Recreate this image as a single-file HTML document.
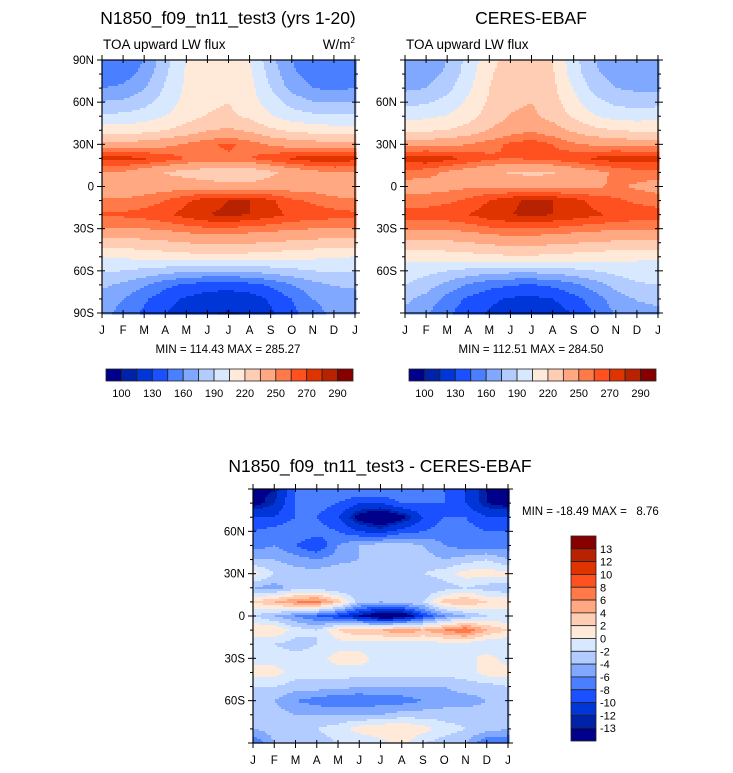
<!DOCTYPE html>
<html><head><meta charset="utf-8">
<style>
html,body{margin:0;padding:0;background:#fff;}
svg{display:block;font-family:"Liberation Sans",Arial,sans-serif;}
</style></head>
<body>
<svg id="root" width="733" height="773" viewBox="0 0 733 773" xmlns="http://www.w3.org/2000/svg">
<rect width="733" height="773" fill="#fff"/>
<text x="228" y="24" font-size="17.5" text-anchor="middle">N1850_f09_tn11_test3 (yrs 1-20)</text>
<text x="531" y="24" font-size="17.5" text-anchor="middle">CERES-EBAF</text>
<text x="103" y="49" font-size="13.5">TOA upward LW flux</text>
<text x="355" y="49" font-size="13.5" text-anchor="end">W/m<tspan font-size="8" dy="-6">2</tspan></text>
<text x="406" y="49" font-size="13.5">TOA upward LW flux</text>
<text x="228" y="353" font-size="11.5" text-anchor="middle">MIN = 114.43 MAX = 285.27</text>
<text x="531" y="353" font-size="11.5" text-anchor="middle">MIN = 112.51 MAX = 284.50</text>
<text x="380" y="472" font-size="17.5" text-anchor="middle">N1850_f09_tn11_test3 - CERES-EBAF</text>
<text x="522" y="515" font-size="11.5" xml:space="preserve">MIN = -18.49 MAX =   8.76</text>
<g id="layer"></g>
</svg>
<script>
// ---- data ----
var months = ["J","F","M","A","M","J","J","A","S","O","N","D","J"];
var lats = [90,80,70,60,50,40,30,20,10,0,-10,-20,-30,-40,-50,-60,-70,-80,-90];
var fluxLevels = [100,115,130,145,160,175,190,205,220,235,250,260,270,280,290];
var fluxLabels = ["100","130","160","190","220","250","270","290"];
var diffLevels = [-13,-12,-10,-8,-6,-4,-2,0,2,4,6,8,10,12,13];
var diffLabels = ["13","12","10","8","6","4","2","0","-2","-4","-6","-8","-10","-12","-13"];
var palette = ['#00008a','#0022a8','#0035d8','#1a50ff','#4a7fff','#80a8ff','#b3ccff','#d8e8ff','#ffe9d9','#ffccb4','#ffa882','#ff7a48','#ff5020','#e03400','#b82200','#860000'];
var modelField = [
[148,150,160,185,205,212,218,205,180,160,150,147,148],
[150,153,165,188,207,214,216,208,185,163,153,150,150],
[160,163,174,192,208,216,218,210,190,170,160,157,160],
[176,178,185,197,210,217,220,212,198,184,176,174,176],
[193,194,198,205,214,221,223,217,206,198,194,192,193],
[212,213,215,220,226,234,238,232,223,217,214,212,212],
[240,240,242,246,252,258,262,256,248,244,242,240,240],
[274,274,272,266,260,258,258,260,266,272,276,276,274],
[250,248,240,234,230,226,222,224,232,240,246,250,250],
[238,240,242,244,244,242,240,240,242,244,244,240,238],
[252,252,255,260,268,276,280,280,272,262,258,254,252],
[262,262,264,268,274,280,282,280,274,268,266,264,262],
[250,250,250,252,256,258,258,256,254,252,250,250,250],
[228,228,230,232,235,238,238,236,234,232,230,228,228],
[205,207,210,212,214,216,216,214,212,210,208,206,205],
[192,190,186,182,178,176,176,178,182,186,190,192,192],
[178,172,162,150,142,138,136,140,148,160,170,176,178],
[168,160,148,135,128,122,120,122,132,145,160,166,168],
[165,155,142,130,122,116,114,116,128,140,155,163,165]];
var obsField = [
[162,165,175,195,215,226,230,220,195,175,165,162,162],
[165,168,178,198,218,228,230,222,198,178,168,165,165],
[172,175,185,202,220,230,232,224,204,185,175,172,172],
[185,188,195,208,222,232,235,226,210,195,186,184,185],
[200,202,206,214,226,236,238,230,218,206,200,198,200],
[218,218,220,226,236,244,248,242,232,224,220,218,218],
[244,244,246,250,256,262,266,260,252,248,246,244,244],
[276,278,274,268,262,260,262,264,268,272,276,276,276],
[256,254,248,242,238,234,232,234,240,246,252,256,256],
[244,244,246,248,248,245,244,244,246,248,252,248,244],
[256,256,258,262,270,278,282,280,274,266,262,258,256],
[264,264,266,270,276,280,282,280,276,272,268,266,264],
[252,252,252,254,258,260,260,258,256,254,252,252,252],
[230,230,232,234,238,240,240,238,236,234,232,230,230],
[208,210,212,214,216,218,218,216,214,212,210,208,208],
[198,195,190,186,182,180,180,182,186,190,195,198,198],
[190,182,170,158,150,146,144,148,156,168,180,188,190],
[178,170,155,142,134,128,126,130,140,152,168,176,178],
[172,162,148,136,128,120,116,120,132,146,162,170,172]];
var diffField = [
[-14,-13,-8,-6,-6,-6,-6,-6,-8,-8,-10,-13,-14],
[-14,-12,-8,-7,-8,-10,-10,-8,-8,-8,-10,-13,-14],
[-10,-10,-8,-8,-10,-14,-16,-14,-10,-8,-8,-10,-10],
[-8,-7,-6,-7,-8,-10,-11,-9,-8,-7,-7,-8,-8],
[-7,-6,-8,-10,-6,-4,-3,-3,-4,-6,-7,-7,-7],
[-4,-4,-5,-6,-5,-4,-4,-4,-3,-4,-3,-2,-4],
[1,-2,-3,-3,-2,-2,-3,-2,-2,-1,1,1,1],
[-4,-5,-3,-3,-4,-4,-4,-3,-4,-3,-2,-3,-4],
[2,4,6,7,3,-3,-4,-3,-2,3,4,2,2],
[-2,-4,-6,-8,-10,-13,-16,-16,-10,-6,-4,-2,-2],
[2,2,-1,-2,2,4,4,6,4,6,8,4,2],
[-2,-2,-3,-2,-1,-1,-1,-2,-1,-1,-1,-2,-2],
[-1,-1,-1,-1,1,1,-1,-1,-1,-1,-1,1,-1],
[1,1,-1,-1,-1,-1,-1,-1,-1,-1,-1,1,1],
[-2,-2,-3,-3,-3,-4,-4,-4,-4,-4,-3,-3,-2],
[-4,-4,-6,-7,-8,-8,-7,-7,-6,-5,-5,-4,-4],
[-3,-3,-4,-4,-4,-4,-4,-3,-3,-3,-3,-3,-3],
[-4,-3,-2,-2,-1,1,2,2,1,-1,-2,-3,-4],
[-8,-4,-3,-3,-2,-2,-1,1,-2,-3,-4,-8,-8]];
var latTicksModel = ["90N","60N","30N","0","30S","60S","90S"];
var latTickValsModel = [90,60,30,0,-30,-60,-90];
var latTicksInner = ["60N","30N","0","30S","60S"];
var latTickValsInner = [60,30,0,-30,-60];

// ---- drawing ----
var NS = "http://www.w3.org/2000/svg";
var layer = document.getElementById('layer');
function mk(tag, attrs, parent){ var e=document.createElementNS(NS,tag); for(var k in attrs) e.setAttribute(k,attrs[k]); (parent||layer).appendChild(e); return e; }
function bin(v, levels){ var i=0; while(i<levels.length && v>=levels[i]) i++; return i; }
function sample(field, m, lat){
  var r=(90-lat)/10, c=m; var r0=Math.min(Math.floor(r),17), c0=Math.min(Math.floor(c),11);
  var fr=r-r0, fc=c-c0;
  var a=field[r0][c0], b=field[r0][c0+1], d=field[r0+1][c0], e=field[r0+1][c0+1];
  return a*(1-fr)*(1-fc)+b*(1-fr)*fc+d*fr*(1-fc)+e*fr*fc;
}
function panel(name, x0, y0, w, h, field, levels, tickLabels, tickVals){
  var g = mk('g',{});
  
  
  var xs = function(m){ return x0 + m/12*w; };
  var ys = function(lat){ return y0 + (90-lat)/180*h; };
  var step=2, nx=Math.ceil(w/step), ny=Math.ceil(h/step);
  for(var j=0;j<ny;j++){
    var lat = 90 - (j+0.5)*step/h*180;
    var runStart=0, runBin=-1;
    for(var i=0;i<=nx;i++){
      var bi = -2;
      if(i<nx){ var m=(i+0.5)*step/w*12; bi=bin(sample(field,m,lat),levels); }
      if(bi!==runBin){
        if(runBin>=0){
          var cell = mk('rect',{x:(x0+runStart*step).toFixed(1),y:(y0+j*step).toFixed(1),width:((i-runStart)*step+0.6).toFixed(1),height:step+0.6,fill:palette[runBin]},g);
          
          
        }
        runStart=i; runBin=bi;
      }
    }
  }
  mk('rect',{x:x0,y:y0,width:w,height:h,fill:'none',stroke:'#000','stroke-width':1.2},g);
  for(var k=0;k<months.length;k++){
    var x=xs(k);
    mk('line',{x1:x,y1:y0+h-3,x2:x,y2:y0+h+5,stroke:'#000','stroke-width':1},g);
    mk('line',{x1:x,y1:y0-5,x2:x,y2:y0+3,stroke:'#000','stroke-width':1},g);
    var t=mk('text',{x:x,y:y0+h+21,'font-size':11.5,'text-anchor':'middle'},g); t.textContent=months[k];
    
    
  }
  for(var lt=-90;lt<=90;lt+=10){
    var y=ys(lt), major=(lt%30===0);
    mk('line',{x1:x0-(major?5:3),y1:y,x2:x0+(major?3:0),y2:y,stroke:'#000','stroke-width':1},g);
    mk('line',{x1:x0+w-(major?3:0),y1:y,x2:x0+w+(major?5:3),y2:y,stroke:'#000','stroke-width':1},g);
  }
  for(var q=0;q<tickLabels.length;q++){
    var tt=mk('text',{x:x0-8,y:ys(tickVals[q])+4,'font-size':11.5,'text-anchor':'end'},g); tt.textContent=tickLabels[q];
    
    
  }
}
panel('model-contour-panel',102,60,253,253,modelField,fluxLevels,latTicksModel,latTickValsModel);
panel('obs-contour-panel',405,60,253,253,obsField,fluxLevels,latTicksInner,latTickValsInner);
panel('diff-contour-panel',253,489,255,254,diffField,diffLevels,latTicksInner,latTickValsInner);

function hbar(name,x0,y0,w,h){
  var g=mk('g',{});
  
  
  var bw=w/palette.length;
  for(var i=0;i<palette.length;i++){
    var r=mk('rect',{x:x0+i*bw,y:y0,width:bw,height:h,fill:palette[i],stroke:'#222','stroke-width':0.8},g);
    
    
  }
  for(var k=0;k<fluxLabels.length;k++){
    var t=mk('text',{x:x0+(1+2*k)*bw,y:y0+h+16,'font-size':11,'text-anchor':'middle'},g); t.textContent=fluxLabels[k];
    
    
  }
}
hbar('model-colorbar',106,369,247,12);
hbar('obs-colorbar',409,369,247,12);

(function(){
  var g=mk('g',{});
  
  
  var x0=571,y0=536,w=25,h=205,bh=h/palette.length;
  for(var i=0;i<palette.length;i++){
    var r=mk('rect',{x:x0,y:y0+i*bh,width:w,height:bh,fill:palette[palette.length-1-i],stroke:'#222','stroke-width':0.8},g);
    
    
  }
  for(var k=0;k<diffLabels.length;k++){
    var t=mk('text',{x:x0+w+4,y:y0+(k+1)*bh+4,'font-size':11},g); t.textContent=diffLabels[k];
    
    
  }
})();
</script>
</body></html>
